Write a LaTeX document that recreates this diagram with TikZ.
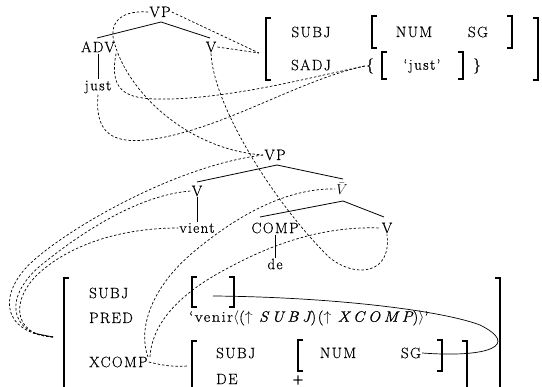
\documentclass[tikz,border=0pt]{standalone}
\usepackage{fontspec}
\setmainfont{Latin Modern Roman}[LetterSpace=9,FakeBold=0.5]
\newcommand{\attr}[1]{{\itshape\addfontfeature{LetterSpace=22}#1}}
\begin{document}
\begin{tikzpicture}[x=1pt,y=-1pt,
  every node/.style={font=\fontsize{15}{18}\selectfont, inner sep=1pt},
  tree/.style={line width=0.8pt},
  corr/.style={dash pattern=on 2.5pt off 2pt, line width=0.7pt},
  share/.style={line width=0.7pt},
  obrk/.style={line width=1.8pt},
  ibrk/.style={line width=1.2pt}]
\clip (0,0) rectangle (542,387);

% ---------- upper c-structure ----------
\node (vpA)   at (160,12) {VP};
\node (advA)  at (98,47)  {ADV};
\node (vA)    at (211,47) {V};
\node (justA) at (98,87)  {just};
\coordinate (apA) at (161,22);
\draw[tree] (apA) -- (97,38);
\draw[tree] (apA) -- (210,38);
\draw[tree] (advA.south) -- (justA.north);

% ---------- upper f-structure ----------
\node (subjA) at (311,32) {SUBJ};
\node (numA)  at (414,32) {NUM};
\node (sgA)   at (478,32) {SG};
\node (sadjA) at (311,65) {SADJ};
\node (lbrA)  at (370,66) {\{};
\node (justF) at (422,66) {‘just’};
\node (rbrA)  at (477,66) {\}};
\draw[obrk] (271,18) -- (266,18) -- (266,80) -- (271,80);
\draw[obrk] (533,18) -- (538,18) -- (538,80) -- (533,80);
\draw[ibrk] (377,16) -- (372,16) -- (372,48) -- (377,48);
\draw[ibrk] (507,16) -- (512,16) -- (512,48) -- (507,48);
\draw[ibrk] (387,52) -- (382,52) -- (382,79) -- (387,79);
\draw[ibrk] (458,52) -- (463,52) -- (463,79) -- (458,79);
\coordinate (fA) at (259,53);

% ---------- lower c-structure ----------
\node (vpB)   at (275,155) {VP};
\node (vB)    at (197,191) {V};
\node (vient) at (197,228) {vient};
\node (vbar)  at (342,189) {$\bar{V}$};
\node (comp)  at (275,228) {COMP};
\node (de)    at (275,264) {de};
\node (vC)    at (387,228) {V};
\coordinate (apB) at (277,165);
\coordinate (apC) at (343,201);
\draw[tree] (apB) -- (197,182);
\draw[tree] (apB) -- (343,179);
\draw[tree] (apC) -- (260,217);
\draw[tree] (apC) -- (384,217);
\draw[tree] (vB.south) -- (vient.north);
\draw[tree] (comp.south) -- (de.north);

% ---------- lower f-structure ----------
\node[anchor=west] (subjB)  at (88,293) {SUBJ};
\node[anchor=west] (predB)  at (88,318) {PRED};
\node[anchor=west] (xcompB) at (88,362) {XCOMP};
\node[anchor=west] (venir)  at (188,318)
  {\scalebox{1.09}[1]{‘venir$\langle$($\uparrow$\ \attr{SUBJ})($\uparrow$\ \attr{XCOMP})$\rangle$’}};
\node[anchor=west] (subjC) at (215,353) {SUBJ};
\node[anchor=west] (deC)   at (215,379) {DE};
\node (numC) at (338,353) {NUM};
\node (sgC)  at (411,353) {SG};
\node (plus) at (298,380) {+};
\draw[obrk] (69,278) -- (64,278) -- (64,400);
\draw[obrk] (495,278) -- (500,278) -- (500,400);
\draw[ibrk] (197,277) -- (192,277) -- (192,307) -- (197,307);
\draw[ibrk] (229,277) -- (234,277) -- (234,307) -- (229,307);
\draw[ibrk] (197,341) -- (192,341) -- (192,400);
\draw[ibrk] (462,341) -- (467,341) -- (467,400);
\draw[ibrk] (303,340) -- (298,340) -- (298,371) -- (303,371);
\draw[ibrk] (437,340) -- (442,340) -- (442,371) -- (437,371);
\coordinate (fB) at (53,337);
\coordinate (emptyB) at (213,296);
\coordinate (xcIn) at (188,366);

% structure sharing between the two SUBJ values
\draw[share] (emptyB) .. controls (330,297) and (440,310) .. (480,325)
  .. controls (520,345) and (490,358) .. (sgC.east);

% ---------- correspondences ----------
\draw[corr] (vpA.east) -- (fA);
\draw[corr] (vA.east) -- (fA);
\draw[corr] (vpA.west) .. controls (118,10) and (108,25) .. (115,45)
  .. controls (130,95) and (190,150) .. (vpB.west);
\draw[corr] (vA.south) .. controls (214,110) and (280,210) .. (330,258)
  .. controls (355,278) and (392,275) .. (vC.south);
\draw[corr] (advA.south east) .. controls (108,95) and (130,100) .. (170,99)
  .. controls (240,97) and (320,75) .. (lbrA.west);
\draw[corr] (justA.south) .. controls (94,140) and (120,145) .. (160,138)
  .. controls (230,125) and (300,80) .. (lbrA.west);

\draw[corr] (fB) .. controls (0,333) and (-5,290) .. (40,255)
  .. controls (80,222) and (180,165) .. (vpB.west);
\draw[corr] (fB) .. controls (8,334) and (2,295) .. (45,262)
  .. controls (85,230) and (140,195) .. (vB.west);
\draw[corr] (fB) .. controls (10,335) and (10,295) .. (45,268)
  .. controls (80,240) and (130,228) .. (vient.west);
\draw[share] (33,333) -- (fB);

\draw[corr] (xcompB.east) .. controls (165,366) and (175,367) .. (xcIn);
\draw[corr] (148,357) .. controls (138,330) and (150,290) .. (190,255)
  .. controls (240,212) and (290,188) .. (vbar.west);
\draw[corr] (150,357) .. controls (152,320) and (185,290) .. (230,267)
  .. controls (280,240) and (330,226) .. (vC.west);
\end{tikzpicture}
\end{document}
